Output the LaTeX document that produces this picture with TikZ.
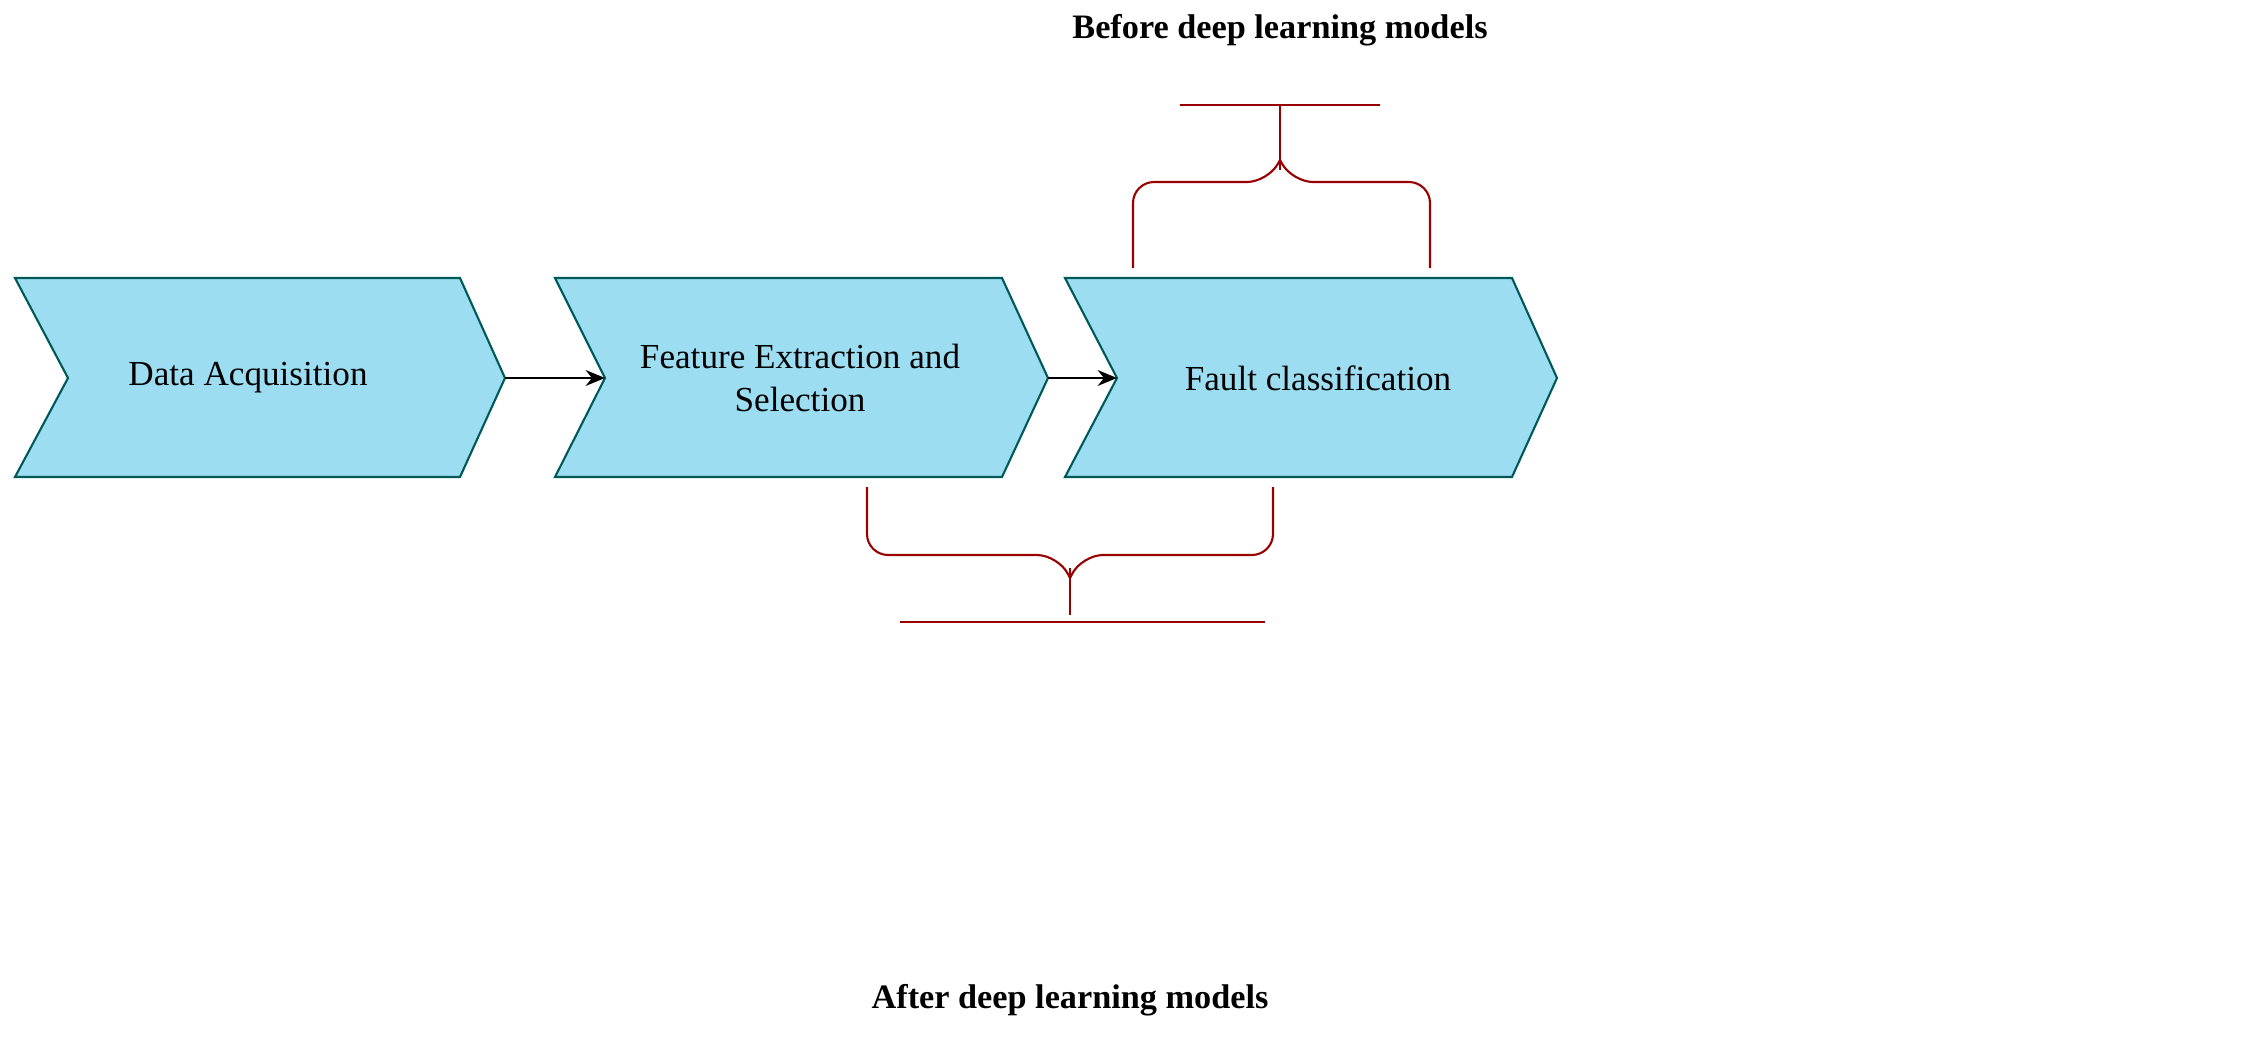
\documentclass[tikz,border=0pt]{standalone}
\usepackage{fontspec}
\setmainfont{Liberation Serif}
\usetikzlibrary{arrows.meta}
\begin{document}
\begin{tikzpicture}[x=0.02cm,y=-0.02cm,
  chev/.style={draw=teal!70!black, line width=1.2pt},
  lbl/.style={font=\fontsize{20}{25}\selectfont, align=center},
  blbl/.style={font=\fontsize{19.5}{24}\selectfont\bfseries},
  arr/.style={-{Stealth[length=11pt,width=9pt]}, line width=1.3pt},
  br/.style={draw=red!60!black, line width=1.2pt, rounded corners=12pt}]
\useasboundingbox (0,0) rectangle (2252,1041);
\definecolor{chevfill}{HTML}{9CDDF2}
\tikzset{chev/.append style={fill=chevfill}}
\draw[chev] (15,278) -- (460,278) -- (505,378) -- (460,477) -- (15,477) -- (68,378) -- cycle;
\draw[chev] (555,278) -- (1002,278) -- (1048,378) -- (1002,477) -- (555,477) -- (605,378) -- cycle;
\draw[chev] (1065,278) -- (1512,278) -- (1557,378) -- (1512,477) -- (1065,477) -- (1117,378) -- cycle;
\node[lbl] (a) at (248,378) {Data Acquisition};
\node[lbl] (b) at (800,378) {Feature Extraction and\\Selection};
\node[lbl] (c) at (1318,378) {Fault classification};
\coordinate (a1) at (505,378); \coordinate (b0) at (605,378);
\coordinate (b1) at (1048,378); \coordinate (c0) at (1117,378);
\draw[arr] (a1) -- (b0);
\draw[arr] (b1) -- (c0);
% top brace
\draw[br] (1133,268) -- (1133,182) -- (1268,182) -- (1280,160);
\draw[br] (1430,268) -- (1430,182) -- (1292,182) -- (1280,160);
\draw[red!60!black, line width=1.2pt] (1280,170) -- (1280,105);
\draw[red!60!black, line width=1.2pt] (1180,105) -- (1380,105);
\node[blbl] (t) at (1280,30) {Before deep learning models};
% bottom brace
\draw[br] (867,487) -- (867,555) -- (1058,555) -- (1070,578);
\draw[br] (1273,487) -- (1273,555) -- (1082,555) -- (1070,578);
\draw[red!60!black, line width=1.2pt] (1070,568) -- (1070,615);
\draw[red!60!black, line width=1.2pt] (900,622) -- (1265,622);
\node[blbl] (u) at (1070,1000) {After deep learning models};
\end{tikzpicture}
\end{document}
